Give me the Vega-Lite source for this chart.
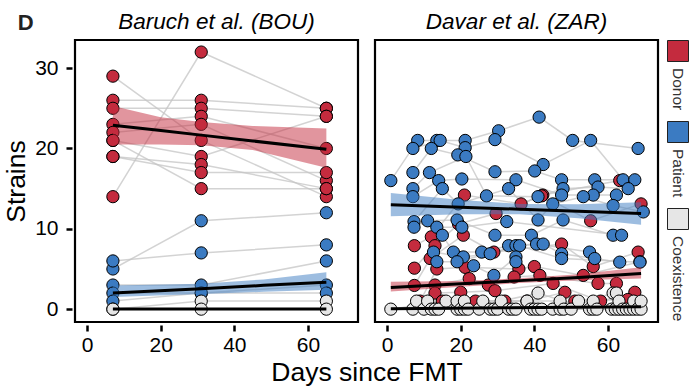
{
  "$schema": "https://vega.github.io/schema/vega-lite/v6.json",
  "padding": {"left": 3, "top": 10, "right": 0, "bottom": 4},
  "background": "white",
  "title": {"text": "D", "anchor": "start", "frame": "bounds", "fontSize": 22, "fontWeight": "bold", "font": "Liberation Sans", "color": "#222222", "offset": -24, "dx": 14},
  "config": {
    "font": "Liberation Sans",
    "view": {"stroke": "black", "strokeWidth": 2.2},
    "axis": {"grid": false, "domain": false, "tickColor": "black", "tickWidth": 2.5, "tickSize": 6, "labelFontSize": 21, "labelColor": "black", "titleFontSize": 26.5, "titleFontWeight": "normal", "titleColor": "black", "offset": 1}
  },
  "data": {"values": [
    {"panel":"B","kind":"pt","cat":"Donor","subj":"bD1","day":7,"val":14},
    {"panel":"B","kind":"pt","cat":"Donor","subj":"bD1","day":31,"val":32},
    {"panel":"B","kind":"pt","cat":"Donor","subj":"bD1","day":65,"val":25},
    {"panel":"B","kind":"pt","cat":"Donor","subj":"bD2","day":7,"val":29},
    {"panel":"B","kind":"pt","cat":"Donor","subj":"bD2","day":31,"val":21},
    {"panel":"B","kind":"pt","cat":"Donor","subj":"bD2","day":65,"val":14},
    {"panel":"B","kind":"pt","cat":"Donor","subj":"bD3","day":7,"val":26},
    {"panel":"B","kind":"pt","cat":"Donor","subj":"bD3","day":31,"val":26},
    {"panel":"B","kind":"pt","cat":"Donor","subj":"bD3","day":65,"val":25},
    {"panel":"B","kind":"pt","cat":"Donor","subj":"bD4","day":7,"val":25},
    {"panel":"B","kind":"pt","cat":"Donor","subj":"bD4","day":31,"val":25},
    {"panel":"B","kind":"pt","cat":"Donor","subj":"bD4","day":65,"val":24},
    {"panel":"B","kind":"pt","cat":"Donor","subj":"bD5","day":7,"val":23},
    {"panel":"B","kind":"pt","cat":"Donor","subj":"bD5","day":31,"val":24},
    {"panel":"B","kind":"pt","cat":"Donor","subj":"bD5","day":65,"val":20},
    {"panel":"B","kind":"pt","cat":"Donor","subj":"bD6","day":7,"val":22},
    {"panel":"B","kind":"pt","cat":"Donor","subj":"bD6","day":31,"val":23},
    {"panel":"B","kind":"pt","cat":"Donor","subj":"bD6","day":65,"val":16},
    {"panel":"B","kind":"pt","cat":"Donor","subj":"bD7","day":7,"val":21},
    {"panel":"B","kind":"pt","cat":"Donor","subj":"bD7","day":31,"val":19},
    {"panel":"B","kind":"pt","cat":"Donor","subj":"bD7","day":65,"val":24},
    {"panel":"B","kind":"pt","cat":"Donor","subj":"bD8","day":7,"val":19},
    {"panel":"B","kind":"pt","cat":"Donor","subj":"bD8","day":31,"val":18},
    {"panel":"B","kind":"pt","cat":"Donor","subj":"bD8","day":65,"val":15},
    {"panel":"B","kind":"pt","cat":"Donor","subj":"bD9","day":7,"val":19},
    {"panel":"B","kind":"pt","cat":"Donor","subj":"bD9","day":31,"val":17},
    {"panel":"B","kind":"pt","cat":"Donor","subj":"bD9","day":65,"val":17},
    {"panel":"B","kind":"pt","cat":"Donor","subj":"bD10","day":7,"val":21},
    {"panel":"B","kind":"pt","cat":"Donor","subj":"bD10","day":31,"val":15},
    {"panel":"B","kind":"pt","cat":"Donor","subj":"bD10","day":65,"val":15},
    {"panel":"B","kind":"pt","cat":"Patient","subj":"bP1","day":7,"val":5},
    {"panel":"B","kind":"pt","cat":"Patient","subj":"bP1","day":31,"val":11},
    {"panel":"B","kind":"pt","cat":"Patient","subj":"bP1","day":65,"val":12},
    {"panel":"B","kind":"pt","cat":"Patient","subj":"bP2","day":7,"val":6},
    {"panel":"B","kind":"pt","cat":"Patient","subj":"bP2","day":31,"val":7},
    {"panel":"B","kind":"pt","cat":"Patient","subj":"bP2","day":65,"val":8},
    {"panel":"B","kind":"pt","cat":"Patient","subj":"bP3","day":7,"val":3},
    {"panel":"B","kind":"pt","cat":"Patient","subj":"bP3","day":31,"val":3},
    {"panel":"B","kind":"pt","cat":"Patient","subj":"bP3","day":65,"val":6},
    {"panel":"B","kind":"pt","cat":"Patient","subj":"bP4","day":7,"val":2},
    {"panel":"B","kind":"pt","cat":"Patient","subj":"bP4","day":31,"val":2},
    {"panel":"B","kind":"pt","cat":"Patient","subj":"bP4","day":65,"val":3},
    {"panel":"B","kind":"pt","cat":"Patient","subj":"bP5","day":7,"val":1},
    {"panel":"B","kind":"pt","cat":"Patient","subj":"bP5","day":31,"val":2},
    {"panel":"B","kind":"pt","cat":"Patient","subj":"bP5","day":65,"val":2},
    {"panel":"B","kind":"pt","cat":"Coexistence","subj":"bC1","day":7,"val":0},
    {"panel":"B","kind":"pt","cat":"Coexistence","subj":"bC1","day":31,"val":1},
    {"panel":"B","kind":"pt","cat":"Coexistence","subj":"bC1","day":65,"val":1},
    {"panel":"B","kind":"pt","cat":"Coexistence","subj":"bC2","day":7,"val":0},
    {"panel":"B","kind":"pt","cat":"Coexistence","subj":"bC2","day":31,"val":0},
    {"panel":"B","kind":"pt","cat":"Coexistence","subj":"bC2","day":65,"val":0},

    {"panel":"Z","kind":"pt","cat":"Donor","subj":"zD1","day":7.4,"val":7.9},
    {"panel":"Z","kind":"pt","cat":"Donor","subj":"zD2","day":7.4,"val":5.1},
    {"panel":"Z","kind":"pt","cat":"Donor","subj":"zD3","day":7.4,"val":2.95},
    {"panel":"Z","kind":"pt","cat":"Donor","subj":"zD4","day":9,"val":1},
    {"panel":"Z","kind":"pt","cat":"Donor","subj":"zD1","day":12,"val":9},
    {"panel":"Z","kind":"pt","cat":"Donor","subj":"zD2","day":13,"val":7.9},
    {"panel":"Z","kind":"pt","cat":"Donor","subj":"zD3","day":11.7,"val":6.3},
    {"panel":"Z","kind":"pt","cat":"Donor","subj":"zD4","day":13.5,"val":5.0},
    {"panel":"Z","kind":"pt","cat":"Donor","subj":"zD5","day":13,"val":3.0},
    {"panel":"Z","kind":"pt","cat":"Donor","subj":"zD6","day":13,"val":2},
    {"panel":"Z","kind":"pt","cat":"Donor","subj":"zD7","day":15,"val":1},
    {"panel":"Z","kind":"pt","cat":"Donor","subj":"zD1","day":21,"val":14.2},
    {"panel":"Z","kind":"pt","cat":"Donor","subj":"zD2","day":19.4,"val":10.6},
    {"panel":"Z","kind":"pt","cat":"Donor","subj":"zD3","day":20.7,"val":9.2},
    {"panel":"Z","kind":"pt","cat":"Donor","subj":"zD4","day":21.2,"val":5.2},
    {"panel":"Z","kind":"pt","cat":"Donor","subj":"zD5","day":22.3,"val":3.8},
    {"panel":"Z","kind":"pt","cat":"Donor","subj":"zD6","day":20,"val":2.1},
    {"panel":"Z","kind":"pt","cat":"Donor","subj":"zD7","day":24,"val":1},
    {"panel":"Z","kind":"pt","cat":"Donor","subj":"zD2","day":29.6,"val":11.9},
    {"panel":"Z","kind":"pt","cat":"Donor","subj":"zD3","day":29,"val":7.1},
    {"panel":"Z","kind":"pt","cat":"Donor","subj":"zD5","day":27.5,"val":3.0},
    {"panel":"Z","kind":"pt","cat":"Donor","subj":"zD6","day":29.3,"val":2.3},
    {"panel":"Z","kind":"pt","cat":"Donor","subj":"zD7","day":32,"val":1},
    {"panel":"Z","kind":"pt","cat":"Donor","subj":"zD1","day":36.4,"val":13.1},
    {"panel":"Z","kind":"pt","cat":"Donor","subj":"zD4","day":35.8,"val":5.0},
    {"panel":"Z","kind":"pt","cat":"Donor","subj":"zD5","day":34.5,"val":4.0},
    {"panel":"Z","kind":"pt","cat":"Donor","subj":"zD7","day":38,"val":1},
    {"panel":"Z","kind":"pt","cat":"Donor","subj":"zD1","day":42.3,"val":14.2},
    {"panel":"Z","kind":"pt","cat":"Donor","subj":"zD2","day":42,"val":14.1},
    {"panel":"Z","kind":"pt","cat":"Donor","subj":"zD3","day":47.4,"val":8.1},
    {"panel":"Z","kind":"pt","cat":"Donor","subj":"zD4","day":40,"val":5.3},
    {"panel":"Z","kind":"pt","cat":"Donor","subj":"zD5","day":41.5,"val":4.2},
    {"panel":"Z","kind":"pt","cat":"Donor","subj":"zD6","day":45.1,"val":3.2},
    {"panel":"Z","kind":"pt","cat":"Donor","subj":"zD7","day":48.3,"val":2.1},
    {"panel":"Z","kind":"pt","cat":"Donor","subj":"zD2","day":55.3,"val":11.0},
    {"panel":"Z","kind":"pt","cat":"Donor","subj":"zD3","day":56,"val":5.3},
    {"panel":"Z","kind":"pt","cat":"Donor","subj":"zD4","day":53.3,"val":4.2},
    {"panel":"Z","kind":"pt","cat":"Donor","subj":"zD5","day":57.3,"val":3.2},
    {"panel":"Z","kind":"pt","cat":"Donor","subj":"zD7","day":51,"val":1},
    {"panel":"Z","kind":"pt","cat":"Donor","subj":"zD6","day":58,"val":1},
    {"panel":"Z","kind":"pt","cat":"Donor","subj":"zD1","day":63.2,"val":16},
    {"panel":"Z","kind":"pt","cat":"Donor","subj":"zD2","day":69,"val":13.1},
    {"panel":"Z","kind":"pt","cat":"Donor","subj":"zD3","day":68.2,"val":7.1},
    {"panel":"Z","kind":"pt","cat":"Donor","subj":"zD4","day":68.7,"val":5.9},
    {"panel":"Z","kind":"pt","cat":"Donor","subj":"zD5","day":62.3,"val":3.2},
    {"panel":"Z","kind":"pt","cat":"Donor","subj":"zD6","day":67.3,"val":2.1},
    {"panel":"Z","kind":"pt","cat":"Donor","subj":"zD7","day":65.4,"val":1.2},

    {"panel":"Z","kind":"pt","cat":"Patient","subj":"zP1","day":1,"val":16},
    {"panel":"Z","kind":"pt","cat":"Patient","subj":"zP1","day":8.3,"val":21},
    {"panel":"Z","kind":"pt","cat":"Patient","subj":"zP2","day":7,"val":20},
    {"panel":"Z","kind":"pt","cat":"Patient","subj":"zP3","day":7,"val":17},
    {"panel":"Z","kind":"pt","cat":"Patient","subj":"zP4","day":7,"val":15},
    {"panel":"Z","kind":"pt","cat":"Patient","subj":"zP5","day":7,"val":14},
    {"panel":"Z","kind":"pt","cat":"Patient","subj":"zP6","day":7.3,"val":10.9},
    {"panel":"Z","kind":"pt","cat":"Patient","subj":"zP7","day":7.3,"val":10.2},
    {"panel":"Z","kind":"pt","cat":"Patient","subj":"zP1","day":13.5,"val":21},
    {"panel":"Z","kind":"pt","cat":"Patient","subj":"zP2","day":14.4,"val":21},
    {"panel":"Z","kind":"pt","cat":"Patient","subj":"zP3","day":12,"val":20},
    {"panel":"Z","kind":"pt","cat":"Patient","subj":"zP4","day":11.5,"val":17},
    {"panel":"Z","kind":"pt","cat":"Patient","subj":"zP5","day":14,"val":16},
    {"panel":"Z","kind":"pt","cat":"Patient","subj":"zP6","day":15,"val":15},
    {"panel":"Z","kind":"pt","cat":"Patient","subj":"zP7","day":11,"val":11},
    {"panel":"Z","kind":"pt","cat":"Patient","subj":"zP8","day":13.5,"val":10.2},
    {"panel":"Z","kind":"pt","cat":"Patient","subj":"zP9","day":15,"val":9.2},
    {"panel":"Z","kind":"pt","cat":"Patient","subj":"zP10","day":12.6,"val":7.1},
    {"panel":"Z","kind":"pt","cat":"Patient","subj":"zP11","day":13.5,"val":5.9},
    {"panel":"Z","kind":"pt","cat":"Patient","subj":"zP1","day":21.2,"val":21},
    {"panel":"Z","kind":"pt","cat":"Patient","subj":"zP2","day":21.2,"val":20.1},
    {"panel":"Z","kind":"pt","cat":"Patient","subj":"zP3","day":19.2,"val":19.2},
    {"panel":"Z","kind":"pt","cat":"Patient","subj":"zP4","day":21.4,"val":19},
    {"panel":"Z","kind":"pt","cat":"Patient","subj":"zP5","day":20.3,"val":16.2},
    {"panel":"Z","kind":"pt","cat":"Patient","subj":"zP6","day":19.3,"val":13.1},
    {"panel":"Z","kind":"pt","cat":"Patient","subj":"zP7","day":19,"val":11.1},
    {"panel":"Z","kind":"pt","cat":"Patient","subj":"zP8","day":20.3,"val":10.2},
    {"panel":"Z","kind":"pt","cat":"Patient","subj":"zP9","day":18,"val":7.1},
    {"panel":"Z","kind":"pt","cat":"Patient","subj":"zP10","day":20.7,"val":6.5},
    {"panel":"Z","kind":"pt","cat":"Patient","subj":"zP11","day":19,"val":5.9},
    {"panel":"Z","kind":"pt","cat":"Patient","subj":"zP12","day":23.5,"val":5.4},
    {"panel":"Z","kind":"pt","cat":"Patient","subj":"zP1","day":30.3,"val":22.2},
    {"panel":"Z","kind":"pt","cat":"Patient","subj":"zP2","day":29.3,"val":21.1},
    {"panel":"Z","kind":"pt","cat":"Patient","subj":"zP3","day":29.3,"val":17.1},
    {"panel":"Z","kind":"pt","cat":"Patient","subj":"zP4","day":27,"val":14.1},
    {"panel":"Z","kind":"pt","cat":"Patient","subj":"zP7","day":29.3,"val":9.2},
    {"panel":"Z","kind":"pt","cat":"Patient","subj":"zP9","day":25.7,"val":7.1},
    {"panel":"Z","kind":"pt","cat":"Patient","subj":"zP10","day":28,"val":6.9},
    {"panel":"Z","kind":"pt","cat":"Patient","subj":"zP12","day":29,"val":4.2},
    {"panel":"Z","kind":"pt","cat":"Patient","subj":"zP5","day":35,"val":16.1},
    {"panel":"Z","kind":"pt","cat":"Patient","subj":"zP6","day":33,"val":15},
    {"panel":"Z","kind":"pt","cat":"Patient","subj":"zP8","day":32.5,"val":10.9},
    {"panel":"Z","kind":"pt","cat":"Patient","subj":"zP9","day":33,"val":7.9},
    {"panel":"Z","kind":"pt","cat":"Patient","subj":"zP10","day":35,"val":7.9},
    {"panel":"Z","kind":"pt","cat":"Patient","subj":"zP11","day":36,"val":7.9},
    {"panel":"Z","kind":"pt","cat":"Patient","subj":"zP12","day":35,"val":6.5},
    {"panel":"Z","kind":"pt","cat":"Patient","subj":"zP13","day":35,"val":5.9},
    {"panel":"Z","kind":"pt","cat":"Patient","subj":"zP1","day":41.3,"val":23.9},
    {"panel":"Z","kind":"pt","cat":"Patient","subj":"zP2","day":42.4,"val":18},
    {"panel":"Z","kind":"pt","cat":"Patient","subj":"zP3","day":40.1,"val":17.2},
    {"panel":"Z","kind":"pt","cat":"Patient","subj":"zP4","day":41,"val":14},
    {"panel":"Z","kind":"pt","cat":"Patient","subj":"zP6","day":41,"val":11.1},
    {"panel":"Z","kind":"pt","cat":"Patient","subj":"zP7","day":39.2,"val":9.2},
    {"panel":"Z","kind":"pt","cat":"Patient","subj":"zP9","day":40.6,"val":8.1},
    {"panel":"Z","kind":"pt","cat":"Patient","subj":"zP10","day":42.4,"val":8.1},
    {"panel":"Z","kind":"pt","cat":"Patient","subj":"zP3","day":47.4,"val":16.1},
    {"panel":"Z","kind":"pt","cat":"Patient","subj":"zP4","day":47.8,"val":15},
    {"panel":"Z","kind":"pt","cat":"Patient","subj":"zP5","day":47.4,"val":14.2},
    {"panel":"Z","kind":"pt","cat":"Patient","subj":"zP6","day":45,"val":13.1},
    {"panel":"Z","kind":"pt","cat":"Patient","subj":"zP7","day":47.8,"val":11.1},
    {"panel":"Z","kind":"pt","cat":"Patient","subj":"zP10","day":47.4,"val":6.9},
    {"panel":"Z","kind":"pt","cat":"Patient","subj":"zP11","day":47.4,"val":6.3},
    {"panel":"Z","kind":"pt","cat":"Patient","subj":"zP1","day":50.4,"val":21},
    {"panel":"Z","kind":"pt","cat":"Patient","subj":"zP2","day":55.3,"val":21},
    {"panel":"Z","kind":"pt","cat":"Patient","subj":"zP3","day":56.4,"val":16.1},
    {"panel":"Z","kind":"pt","cat":"Patient","subj":"zP4","day":57.3,"val":15.2},
    {"panel":"Z","kind":"pt","cat":"Patient","subj":"zP5","day":56,"val":14.2},
    {"panel":"Z","kind":"pt","cat":"Patient","subj":"zP6","day":53.3,"val":14},
    {"panel":"Z","kind":"pt","cat":"Patient","subj":"zP9","day":55,"val":7.1},
    {"panel":"Z","kind":"pt","cat":"Patient","subj":"zP10","day":56.4,"val":6.3},
    {"panel":"Z","kind":"pt","cat":"Patient","subj":"zP2","day":64.1,"val":16.1},
    {"panel":"Z","kind":"pt","cat":"Patient","subj":"zP3","day":67.3,"val":16.1},
    {"panel":"Z","kind":"pt","cat":"Patient","subj":"zP4","day":65.5,"val":15},
    {"panel":"Z","kind":"pt","cat":"Patient","subj":"zP5","day":62.3,"val":14.2},
    {"panel":"Z","kind":"pt","cat":"Patient","subj":"zP6","day":61.4,"val":12.9},
    {"panel":"Z","kind":"pt","cat":"Patient","subj":"zP7","day":61.4,"val":9.2},
    {"panel":"Z","kind":"pt","cat":"Patient","subj":"zP8","day":63.7,"val":9.2},
    {"panel":"Z","kind":"pt","cat":"Patient","subj":"zP10","day":63.2,"val":5.85},
    {"panel":"Z","kind":"pt","cat":"Patient","subj":"zP1","day":68.2,"val":20},
    {"panel":"Z","kind":"pt","cat":"Patient","subj":"zP6","day":69.6,"val":12.1},
    {"panel":"Z","kind":"pt","cat":"Patient","subj":"zP11","day":68.7,"val":5.85},

    {"panel":"Z","kind":"pt","cat":"Coexistence","subj":"zC1","day":1,"val":0},
    {"panel":"Z","kind":"pt","cat":"Coexistence","subj":"zC2","day":7,"val":0},
    {"panel":"Z","kind":"pt","cat":"Coexistence","subj":"zC3","day":8,"val":1},
    {"panel":"Z","kind":"pt","cat":"Coexistence","subj":"zC4","day":10,"val":0},
    {"panel":"Z","kind":"pt","cat":"Coexistence","subj":"zC5","day":11,"val":1},
    {"panel":"Z","kind":"pt","cat":"Coexistence","subj":"zC6","day":12,"val":0},
    {"panel":"Z","kind":"pt","cat":"Coexistence","subj":"zC7","day":13,"val":0},
    {"panel":"Z","kind":"pt","cat":"Coexistence","subj":"zC8","day":14,"val":0},
    {"panel":"Z","kind":"pt","cat":"Coexistence","subj":"zC1","day":16,"val":1},
    {"panel":"Z","kind":"pt","cat":"Coexistence","subj":"zC2","day":19,"val":0},
    {"panel":"Z","kind":"pt","cat":"Coexistence","subj":"zC3","day":19,"val":1},
    {"panel":"Z","kind":"pt","cat":"Coexistence","subj":"zC4","day":20,"val":0},
    {"panel":"Z","kind":"pt","cat":"Coexistence","subj":"zC5","day":21,"val":0},
    {"panel":"Z","kind":"pt","cat":"Coexistence","subj":"zC6","day":21,"val":1},
    {"panel":"Z","kind":"pt","cat":"Coexistence","subj":"zC7","day":22,"val":0},
    {"panel":"Z","kind":"pt","cat":"Coexistence","subj":"zC8","day":25,"val":0},
    {"panel":"Z","kind":"pt","cat":"Coexistence","subj":"zC1","day":26,"val":1},
    {"panel":"Z","kind":"pt","cat":"Coexistence","subj":"zC2","day":28,"val":0},
    {"panel":"Z","kind":"pt","cat":"Coexistence","subj":"zC3","day":29,"val":0},
    {"panel":"Z","kind":"pt","cat":"Coexistence","subj":"zC4","day":30,"val":0},
    {"panel":"Z","kind":"pt","cat":"Coexistence","subj":"zC5","day":31,"val":1},
    {"panel":"Z","kind":"pt","cat":"Coexistence","subj":"zC6","day":33,"val":0},
    {"panel":"Z","kind":"pt","cat":"Coexistence","subj":"zC7","day":34,"val":0},
    {"panel":"Z","kind":"pt","cat":"Coexistence","subj":"zC8","day":35,"val":0},
    {"panel":"Z","kind":"pt","cat":"Coexistence","subj":"zC1","day":38,"val":1},
    {"panel":"Z","kind":"pt","cat":"Coexistence","subj":"zC2","day":39,"val":0},
    {"panel":"Z","kind":"pt","cat":"Coexistence","subj":"zC3","day":40,"val":0},
    {"panel":"Z","kind":"pt","cat":"Coexistence","subj":"zC4","day":41,"val":0},
    {"panel":"Z","kind":"pt","cat":"Coexistence","subj":"zC5","day":41,"val":2},
    {"panel":"Z","kind":"pt","cat":"Coexistence","subj":"zC6","day":42,"val":0},
    {"panel":"Z","kind":"pt","cat":"Coexistence","subj":"zC7","day":45,"val":0},
    {"panel":"Z","kind":"pt","cat":"Coexistence","subj":"zC8","day":47,"val":0},
    {"panel":"Z","kind":"pt","cat":"Coexistence","subj":"zC1","day":47,"val":1},
    {"panel":"Z","kind":"pt","cat":"Coexistence","subj":"zC2","day":48,"val":0},
    {"panel":"Z","kind":"pt","cat":"Coexistence","subj":"zC3","day":50,"val":0},
    {"panel":"Z","kind":"pt","cat":"Coexistence","subj":"zC4","day":52,"val":1},
    {"panel":"Z","kind":"pt","cat":"Coexistence","subj":"zC5","day":55,"val":0},
    {"panel":"Z","kind":"pt","cat":"Coexistence","subj":"zC6","day":56,"val":0},
    {"panel":"Z","kind":"pt","cat":"Coexistence","subj":"zC7","day":56,"val":1},
    {"panel":"Z","kind":"pt","cat":"Coexistence","subj":"zC8","day":57,"val":0},
    {"panel":"Z","kind":"pt","cat":"Coexistence","subj":"zC1","day":61,"val":0},
    {"panel":"Z","kind":"pt","cat":"Coexistence","subj":"zC2","day":61.4,"val":2},
    {"panel":"Z","kind":"pt","cat":"Coexistence","subj":"zC3","day":62,"val":0},
    {"panel":"Z","kind":"pt","cat":"Coexistence","subj":"zC4","day":62.3,"val":2},
    {"panel":"Z","kind":"pt","cat":"Coexistence","subj":"zC5","day":63,"val":0},
    {"panel":"Z","kind":"pt","cat":"Coexistence","subj":"zC6","day":63,"val":1},
    {"panel":"Z","kind":"pt","cat":"Coexistence","subj":"zC7","day":64,"val":0},
    {"panel":"Z","kind":"pt","cat":"Coexistence","subj":"zC8","day":65,"val":0},
    {"panel":"Z","kind":"pt","cat":"Coexistence","subj":"zC1","day":66,"val":0},
    {"panel":"Z","kind":"pt","cat":"Coexistence","subj":"zC2","day":67,"val":0},
    {"panel":"Z","kind":"pt","cat":"Coexistence","subj":"zC3","day":67,"val":1},
    {"panel":"Z","kind":"pt","cat":"Coexistence","subj":"zC4","day":68,"val":0},
    {"panel":"Z","kind":"pt","cat":"Coexistence","subj":"zC5","day":69,"val":0},
    {"panel":"Z","kind":"pt","cat":"Coexistence","subj":"zC6","day":69,"val":1},

    {"panel":"B","kind":"fit","cat":"Donor","day":7,"fit":22.9,"lo":20.5,"hi":25.3},
    {"panel":"B","kind":"fit","cat":"Donor","day":20,"fit":22.23,"lo":20.5,"hi":23.9},
    {"panel":"B","kind":"fit","cat":"Donor","day":31,"fit":21.66,"lo":20.4,"hi":23.3},
    {"panel":"B","kind":"fit","cat":"Donor","day":45,"fit":20.93,"lo":19.8,"hi":22.8},
    {"panel":"B","kind":"fit","cat":"Donor","day":65,"fit":19.9,"lo":17.6,"hi":22.5},
    {"panel":"B","kind":"fit","cat":"Patient","day":7,"fit":2.0,"lo":1.5,"hi":2.95},
    {"panel":"B","kind":"fit","cat":"Patient","day":31,"fit":2.55,"lo":1.9,"hi":3.15},
    {"panel":"B","kind":"fit","cat":"Patient","day":48,"fit":2.96,"lo":2.15,"hi":3.7},
    {"panel":"B","kind":"fit","cat":"Patient","day":65,"fit":3.36,"lo":2.4,"hi":4.6},
    {"panel":"B","kind":"fit","cat":"Coexistence","day":7,"fit":0.02,"lo":-0.1,"hi":0.14},
    {"panel":"B","kind":"fit","cat":"Coexistence","day":65,"fit":0.02,"lo":-0.1,"hi":0.14},
    {"panel":"Z","kind":"fit","cat":"Patient","day":1,"fit":13.0,"lo":11.55,"hi":14.45},
    {"panel":"Z","kind":"fit","cat":"Patient","day":20,"fit":12.69,"lo":11.8,"hi":13.6},
    {"panel":"Z","kind":"fit","cat":"Patient","day":36,"fit":12.43,"lo":11.8,"hi":13.1},
    {"panel":"Z","kind":"fit","cat":"Patient","day":52,"fit":12.17,"lo":11.3,"hi":13.05},
    {"panel":"Z","kind":"fit","cat":"Patient","day":69,"fit":11.9,"lo":10.5,"hi":13.3},
    {"panel":"Z","kind":"fit","cat":"Donor","day":1,"fit":2.7,"lo":2.2,"hi":3.4},
    {"panel":"Z","kind":"fit","cat":"Donor","day":20,"fit":3.15,"lo":2.8,"hi":3.5},
    {"panel":"Z","kind":"fit","cat":"Donor","day":36,"fit":3.55,"lo":3.25,"hi":3.85},
    {"panel":"Z","kind":"fit","cat":"Donor","day":52,"fit":3.95,"lo":3.6,"hi":4.35},
    {"panel":"Z","kind":"fit","cat":"Donor","day":69,"fit":4.45,"lo":3.8,"hi":5.2},
    {"panel":"Z","kind":"fit","cat":"Coexistence","day":1,"fit":0.05,"lo":-0.1,"hi":0.2},
    {"panel":"Z","kind":"fit","cat":"Coexistence","day":69,"fit":0.3,"lo":0.1,"hi":0.5}
  ]},
  "facet": {
    "column": {
      "field": "panel", "type": "nominal", "sort": ["B", "Z"],
      "title": "Days since FMT",
      "header": {"labelOrient": "top", "titleOrient": "bottom", "titleFontSize": 26.5, "titleFontWeight": "normal", "titleColor": "black", "titlePadding": -5, "labelExpr": "datum.value == 'B' ? 'Baruch et al. (BOU)' : 'Davar et al. (ZAR)'", "labelFontSize": 22.5, "labelFontStyle": "italic", "labelColor": "black", "labelPadding": 5}
    }
  },
  "spacing": 13,
  "spec": {
    "width": 283,
    "height": 282,
    "layer": [
      {
        "transform": [{"filter": "datum.kind == 'pt'"}],
        "mark": {"type": "line", "color": "#c4c4c4", "strokeWidth": 1.5, "opacity": 0.75},
        "encoding": {
          "x": {"field": "day", "type": "quantitative"},
          "y": {"field": "val", "type": "quantitative"},
          "detail": {"field": "subj"},
          "order": {"field": "day"}
        }
      },
      {
        "transform": [{"filter": "datum.kind == 'pt'"}],
        "mark": {"type": "point", "shape": "circle", "filled": true, "size": 150, "stroke": "black", "strokeWidth": 1, "opacity": 1},
        "encoding": {
          "x": {"field": "day", "type": "quantitative"},
          "y": {"field": "val", "type": "quantitative"},
          "fill": {
            "field": "cat", "type": "nominal",
            "scale": {"domain": ["Donor", "Patient", "Coexistence"], "range": ["#C42B3E", "#3B7BC2", "#E6E6E6"]},
            "legend": {
              "title": null, "orient": "right", "offset": 7, "padding": 0,
              "symbolType": "square", "symbolSize": 441, "symbolStrokeColor": "#222222", "symbolStrokeWidth": 1, "symbolOpacity": 1,
              "labelFontSize": 15.5, "labelColor": "#333333", "rowPadding": 8,
              "encode": {"labels": {"update": {"angle": {"value": 90}, "align": {"value": "left"}, "baseline": {"value": "middle"}, "x": {"value": 11}, "y": {"value": 28}}}}
            }
          }
        }
      },
      {
        "transform": [{"filter": "datum.kind == 'fit'"}],
        "mark": {"type": "area", "opacity": 0.5},
        "encoding": {
          "x": {"field": "day", "type": "quantitative"},
          "y": {"field": "lo", "type": "quantitative"},
          "y2": {"field": "hi"},
          "fill": {"field": "cat", "type": "nominal"}
        }
      },
      {
        "transform": [{"filter": "datum.kind == 'fit'"}],
        "mark": {"type": "line", "color": "black", "strokeWidth": 3},
        "encoding": {
          "x": {"field": "day", "type": "quantitative", "title": null, "scale": {"domain": [-3.3, 73.6], "nice": false, "zero": false}, "axis": {"values": [0, 20, 40, 60], "labelPadding": 3}},
          "y": {"field": "fit", "type": "quantitative", "title": "Strains", "scale": {"domain": [-1.6, 33.5], "nice": false, "zero": false}, "axis": {"values": [0, 10, 20, 30], "labelPadding": 8, "titlePadding": 4}},
          "detail": {"field": "cat"}
        }
      }
    ]
  },
  "resolve": {"scale": {"x": "shared", "y": "shared"}}
}
